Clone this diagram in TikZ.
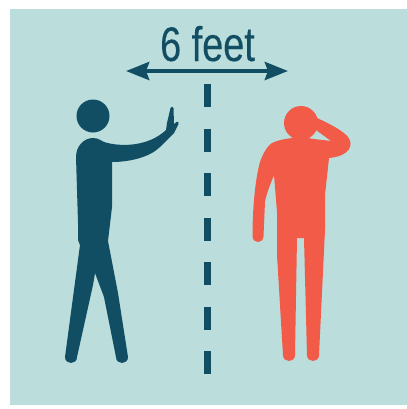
\documentclass[tikz,border=0pt]{standalone}
\usepackage{fontspec}
\setmainfont{Liberation Sans}
\newfontfamily\narrowfont[FakeStretch=0.78, FakeBold=0.25]{Liberation Sans}
\usetikzlibrary{arrows.meta}
\definecolor{cPanel}{HTML}{BBDDDC}
\definecolor{cSafe}{HTML}{124E63}
\definecolor{cSick}{HTML}{F15B47}
\tikzset{
    panel/.style={fill=cPanel, draw=none},
    safe/.style={fill=cSafe, draw=none},
    sick/.style={fill=cSick, draw=none},
    gapline/.style={draw=cSafe, line width=0.175cm, dash pattern=on 0.575cm off 0.5375cm},
    span/.style={{Stealth[length=0.58cm, width=0.45cm, inset=0.08cm]}-{Stealth[length=0.58cm, width=0.45cm, inset=0.08cm]},
                 line width=0.1cm, draw=cSafe},
    lbl/.style={font=\narrowfont\fontsize{34.5}{34.5}\selectfont, text=cSafe, inner sep=0pt},
}
\begin{document}
\begin{tikzpicture}[x=0.025cm, y=-0.025cm]
    \useasboundingbox (0,0) rectangle (407,409);
    \fill[panel] (10,9) rectangle (407,405);

    % gap between the two
    \coordinate (gapTop) at (207.5,84);
    \coordinate (gapBot) at (207.5,375);
    \draw[gapline] (gapTop) -- (gapBot);

    \coordinate (spanL) at (126,71);
    \coordinate (spanR) at (288,71);
    \draw[span] (spanL) -- (spanR);
    \node[lbl, anchor=base] (distLabel) at (207.5,61) {6 feet};

    % left person
    \fill[safe] (93,116) circle (16.5);
    \fill[safe] (93,138) .. controls (99,138) and (101,141) .. (104,142)
        .. controls (120,147) and (148,147) .. (166,130)
        -- (167,123) -- (170.5,108) .. controls (171,106) and (173,106) .. (173.5,108)
        -- (174,124) -- (176.5,122) .. controls (178,121) and (179.5,122) .. (178.5,124)
        -- (174,133) -- (160,147)
        .. controls (150,157) and (130,162) .. (112,162)
        -- (112,207) -- (108,241) -- (118,293) -- (128,357)
        .. controls (128,365) and (116,365) .. (116,357)
        -- (104,297) -- (95,273) -- (93,285) -- (77,357)
        .. controls (77,365) and (65,365) .. (65,357)
        -- (80,245) -- (78,240) -- (78,223) -- (76,157)
        .. controls (76,146) and (84,138) .. (93,138) -- cycle;

    % right person
    \fill[sick] (301,123) circle (17);
    \fill[sick] (292,138) -- (308,138) -- (314,139) -- (331,141) -- (316,130) -- (317,118)
        .. controls (330,124) and (342,130) .. (348,137)
        .. controls (354,145) and (350,156) .. (329,158)
        -- (325,195) -- (325,230) -- (319,355)
        .. controls (319,363) and (307,363) .. (307,355)
        -- (304,238) -- (297,238) -- (295,355)
        .. controls (295,363) and (283,363) .. (283,355)
        -- (277,255) -- (277,212) -- (274,175)
        .. controls (270,185) and (266,195) .. (265,202)
        -- (263.5,236)
        .. controls (263.5,244) and (252.5,244) .. (252.5,236)
        .. controls (252.5,210) and (255,180) .. (260,162)
        .. controls (264,150) and (270,144) .. (272,143)
        .. controls (278,140) and (285,139) .. (292,138) -- cycle;
\end{tikzpicture}
\end{document}
